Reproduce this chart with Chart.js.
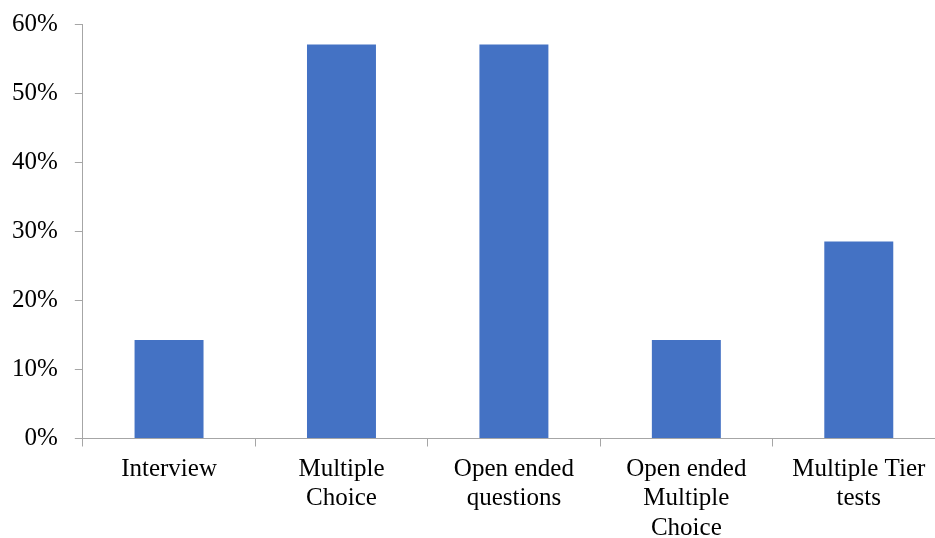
<!DOCTYPE html>
<html>
<head>
<meta charset="utf-8">
<script src="https://cdn.jsdelivr.net/npm/chart.js@4"></script>
<style>
  html, body { margin: 0; padding: 0; background: #fff; overflow: hidden; width: 935px; height: 538px; }
  #wrap { position: absolute; left: 0; top: -7px; }
</style>
</head>
<body>
<div id="wrap"><canvas id="chart" width="945" height="558"></canvas></div>
<script>
var categories = [
    'Interview',
    ['Multiple', 'Choice'],
    ['Open ended', 'questions'],
    ['Open ended', 'Multiple', 'Choice'],
    ['Multiple Tier', 'tests']
];
var shares = [14.29, 57.14, 57.14, 14.29, 28.57];
var yTicks = [0, 10, 20, 30, 40, 50, 60];

var axisGrey = '#a6a6a6';
var font = { family: 'Liberation Serif', size: 25, lineHeight: 1.18 };

var ctx = document.getElementById('chart').getContext('2d');
var chart = new Chart(ctx, {
    type: 'bar',
    data: {
        labels: categories,
        datasets: [{
            data: shares,
            backgroundColor: '#4472c4',
            borderWidth: 0,
            categoryPercentage: 1,
            barPercentage: 0.4
        }]
    },
    options: {
        responsive: false,
        animation: false,
        layout: { padding: { left: -5, top: 0, right: 0, bottom: 0 } },
        plugins: { legend: { display: false }, tooltip: { enabled: false } },
        scales: {
            x: {
                grid: { drawOnChartArea: false, drawTicks: true, tickLength: 8, color: axisGrey, offset: true },
                border: { color: axisGrey, width: 1 },
                ticks: { color: '#000', font: font, padding: 8, maxRotation: 0, autoSkip: false }
            },
            y: {
                min: 0,
                max: 60,
                afterBuildTicks: function (axis) {
                    axis.ticks = yTicks.map(function (v) { return { value: v }; });
                },
                grid: { drawOnChartArea: false, drawTicks: true, tickLength: 8, color: axisGrey },
                border: { color: axisGrey, width: 1 },
                ticks: {
                    color: '#000',
                    font: font,
                    padding: 17,
                    callback: function (v) { return v + '%'; }
                }
            }
        }
    }
});
</script>
</body>
</html>
